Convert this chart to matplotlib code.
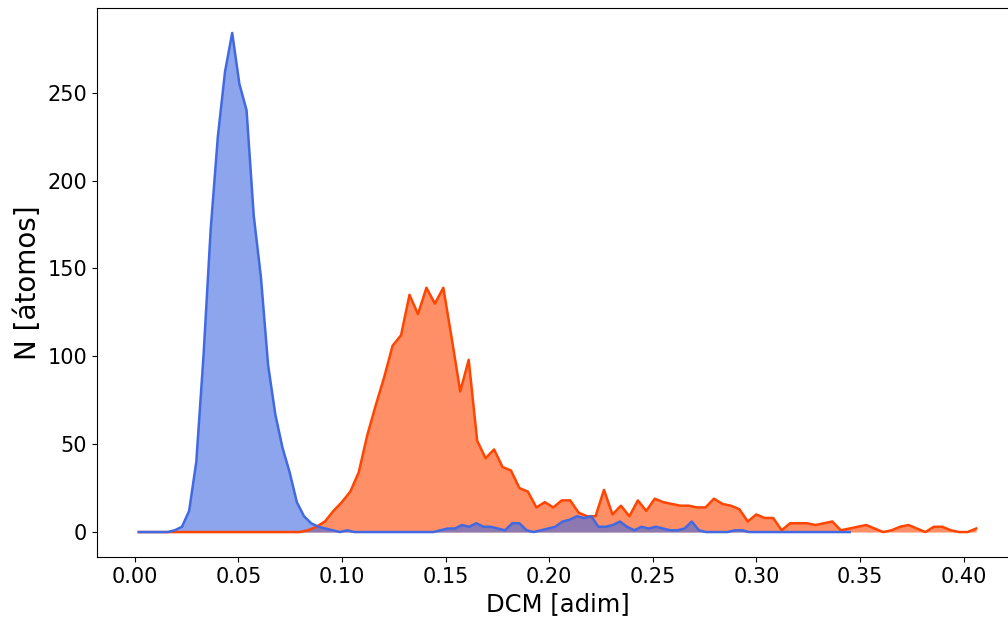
import numpy as np
import matplotlib
matplotlib.use("Agg")
import matplotlib.pyplot as plt

# bin centres (DCM, adim) for each histogram
x_start = 0.002
x_end_cu = 0.345
x_end_ag = 0.406

# counts per bin, blue series
n_blue = [0, 0, 0, 0, 0, 1, 3, 12, 40, 100,
          172, 225, 262, 284, 255, 240, 180, 145, 95, 67,
          48, 34, 17, 9, 5, 3, 2, 1, 0, 1,
          0, 0, 0, 0, 0, 0, 0, 0, 0, 0,
          0, 0, 1, 2, 2, 4, 3, 5, 3, 3,
          2, 1, 5, 5, 1, 0, 1, 2, 3, 6,
          7, 9, 8, 9, 3, 3, 4, 6, 3, 1,
          3, 2, 3, 2, 1, 1, 2, 6, 1, 0,
          0, 0, 0, 1, 1, 0, 0, 0, 0, 0,
          0, 0, 0, 0, 0, 0, 0, 0, 0, 0]

# counts per bin, orange series
n_orange = [0, 0, 0, 0, 0, 0, 0, 0, 0, 0,
            0, 0, 0, 0, 0, 0, 0, 0, 0, 0,
            1, 3, 6, 12, 17, 23, 34, 55, 72, 88,
            106, 112, 135, 124, 139, 130, 139, 110, 80, 98,
            52, 42, 47, 37, 35, 25, 23, 14, 17, 14,
            18, 18, 11, 9, 9, 24, 10, 15, 9, 18,
            12, 19, 17, 16, 15, 15, 14, 14, 19, 16,
            15, 13, 6, 10, 8, 8, 1, 5, 5, 5,
            4, 5, 6, 1, 2, 3, 4, 2, 0, 1,
            3, 4, 2, 0, 3, 3, 1, 0, 0, 2]

x_blue = np.linspace(x_start, x_end_cu, len(n_blue))
x_orange = np.linspace(x_start, x_end_ag, len(n_orange))

fig = plt.figure(figsize=(10.08, 6.24), dpi=100)
# the right spine sits just past the picture edge, as in the reference
ax = fig.add_axes([97 / 1008, 67 / 624, 921 / 1008, 549 / 624])

ax.fill_between(x_orange, n_orange, color="orangered", alpha=0.6, lw=0)
ax.fill_between(x_blue, n_blue, color="royalblue", alpha=0.6, lw=0)
ax.plot(x_orange, n_orange, color="orangered", lw=1.8)
ax.plot(x_blue, n_blue, color="royalblue", lw=1.8)

ax.set_xticks(np.arange(0, 0.41, 0.05))
ax.tick_params(labelsize=15)
ax.set_xlabel("DCM [adim]", fontsize=17.5)
ax.set_ylabel("N [átomos]", fontsize=20)

fig.savefig("out.png", dpi=100)
